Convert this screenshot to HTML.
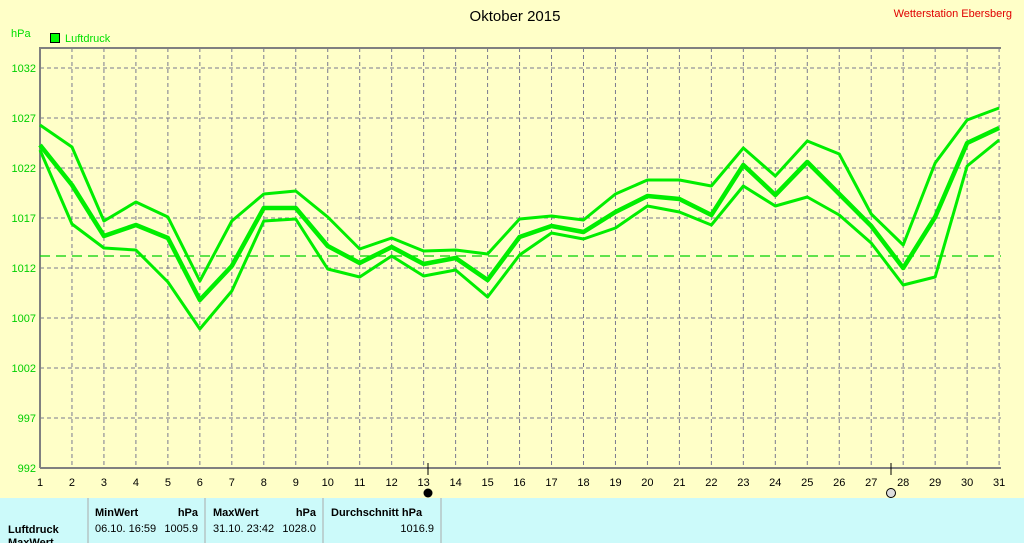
<!DOCTYPE html><html><head><style>body{margin:0;width:1024px;height:543px;overflow:hidden;background:#ffffc8;font-family:"Liberation Sans",sans-serif}</style></head><body>
<svg width="1024" height="543" style="position:absolute;left:0;top:0" font-family="Liberation Sans, sans-serif">
<rect width="1024" height="543" fill="#ffffc8"/>
<text x="515" y="21" font-size="15" text-anchor="middle" fill="#000">Oktober 2015</text>
<text x="1012" y="17" font-size="11" text-anchor="end" fill="#e00000">Wetterstation Ebersberg</text>
<text x="11" y="37" font-size="11" fill="#00e000">hPa</text>
<rect x="50.5" y="33.5" width="9" height="9" fill="#00ff00" stroke="#000"/>
<text x="65" y="42" font-size="11" fill="#00e000">Luftdruck</text>
<g id="grid" stroke="#7a7a90" stroke-dasharray="4,3" stroke-width="1"></g>
<g stroke="#808080" stroke-width="2" fill="none"><polyline points="40,468 40,48 1001,48"/><line x1="40" y1="468" x2="1001" y2="468"/></g>
<g id="lab" font-size="11" fill="#00d000" text-anchor="end"></g>
<g id="xl" font-size="11" fill="#000" text-anchor="middle"></g>
<line x1="40" y1="256" x2="1001" y2="256" stroke="#00d000" stroke-dasharray="10,6" stroke-width="1.2"/>
<g fill="none" stroke="#00ee00" stroke-linejoin="round">
<polyline id="mx" stroke-width="3"/><polyline id="av" stroke-width="4.5"/><polyline id="mn" stroke-width="3"/></g>
<line x1="428" y1="463" x2="428" y2="475" stroke="#000"/><circle cx="428" cy="493" r="4.5" fill="#000"/>
<line x1="891" y1="463" x2="891" y2="475" stroke="#000"/><circle cx="891" cy="493" r="4.5" fill="#ddd" stroke="#000"/>
<rect x="0" y="498" width="1024" height="45" fill="#ccfafa"/>
<g stroke="#aaa"><line x1="88" y1="498" x2="88" y2="543"/><line x1="205" y1="498" x2="205" y2="543"/><line x1="323" y1="498" x2="323" y2="543"/><line x1="441" y1="498" x2="441" y2="543"/></g>
<g font-size="11" fill="#000"><text x="8" y="533" font-weight="bold">Luftdruck</text><text x="8" y="546" font-weight="bold">MaxWert</text>
<text x="95" y="516" font-weight="bold">MinWert</text><text x="198" y="516" font-weight="bold" text-anchor="end">hPa</text>
<text x="95" y="532">06.10.  16:59</text><text x="198" y="532" text-anchor="end">1005.9</text>
<text x="213" y="516" font-weight="bold">MaxWert</text><text x="316" y="516" font-weight="bold" text-anchor="end">hPa</text>
<text x="213" y="532">31.10.  23:42</text><text x="316" y="532" text-anchor="end">1028.0</text>
<text x="331" y="516" font-weight="bold">Durchschnitt   hPa</text><text x="434" y="532" text-anchor="end">1016.9</text></g>
</svg>
<script>
var ns="http://www.w3.org/2000/svg",g=document.getElementById('grid'),lab=document.getElementById('lab'),xl=document.getElementById('xl');
function X(d){return 40+(d-1)*31.97}
function el(p,t,a,txt){var e=document.createElementNS(ns,t);for(var k in a)e.setAttribute(k,a[k]);if(txt)e.textContent=txt;p.appendChild(e)}
for(var d=2;d<=31;d++)el(g,'line',{x1:X(d),y1:48,x2:X(d),y2:468});
for(var d=1;d<=31;d++)el(xl,'text',{x:X(d),y:486},''+d);
for(var v=992;v<=1032;v+=5){var y=468-(v-992)*10;if(v>992)el(g,'line',{x1:40,y1:y,x2:1001,y2:y});el(lab,'text',{x:36,y:y+4},''+v)}
function P(id,a){document.getElementById(id).setAttribute('points',a.map(function(y,i){return X(i+1)+','+y}).join(' '))}
P('mx',[125,147,221,202,217,281,221,194,191,217,249,238,251,250,254,219,216,220,194,180,180,186,148,176,141,154,214,245,163,120,108]);
P('av',[145,185,236,225,238,300,266,208,208,246,263,247,264,258,280,237,226,232,212,196,199,215,165,195,162,194,226,268,217,143,128]);
P('mn',[150,224,248,250,282,329,291,221,219,269,277,256,276,270,297,255,233,239,228,206,212,225,186,206,197,215,243,285,277,166,140]);
</script></body></html>
